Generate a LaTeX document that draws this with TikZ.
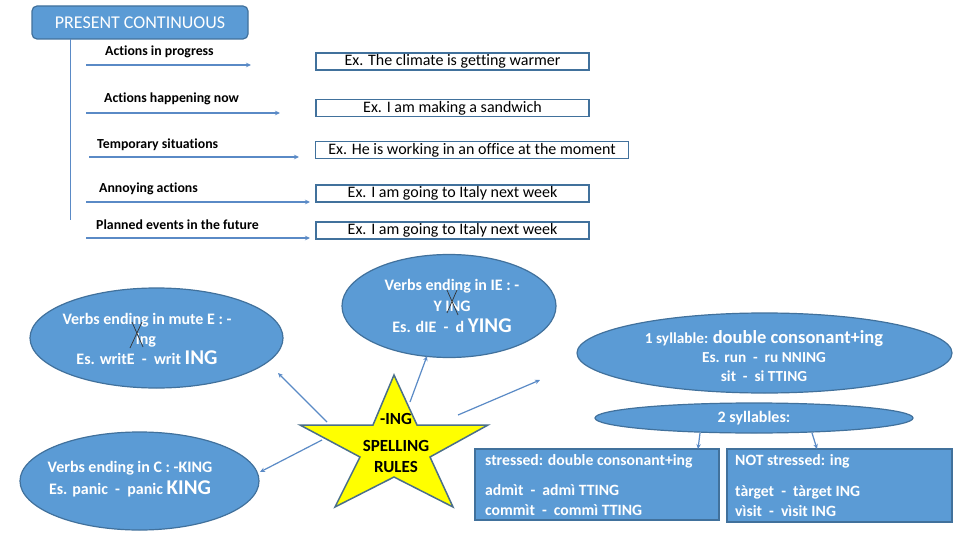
\documentclass[tikz,border=0pt]{standalone}
\usepackage{fontspec}
\setmainfont{Carlito}[Ligatures=NoCommon]
\usetikzlibrary{arrows.meta,shapes.geometric}
\definecolor{fillblue}{HTML}{5B9BD5}
\definecolor{edgeblue}{HTML}{41719C}
\definecolor{arrowblue}{HTML}{5A8AC6}
\definecolor{staryellow}{HTML}{FFFF00}
\definecolor{stargrey}{HTML}{4A6F8A}
\tikzset{
  titlebox/.style={rounded corners=5pt, fill=fillblue, draw=edgeblue, line width=1.2pt,
    text=white, font=\fontsize{18}{20}\selectfont, minimum width=216pt, minimum height=33pt, inner sep=0pt},
  acttext/.style={anchor=west, inner sep=0pt, font=\bfseries\fontsize{13.8}{15}\selectfont},
  exbox/.style={draw=edgeblue, line width=1.5pt, fill=white, minimum height=17pt, inner sep=0pt,
    font=\fontsize{16}{17}\selectfont},
  conn/.style={draw=arrowblue, line width=1.2pt, -{Stealth[length=5pt,width=4.5pt]}},
  plainline/.style={draw=arrowblue, line width=1pt},
  bubble/.style={ellipse, fill=fillblue, draw=edgeblue, line width=1.2pt, inner sep=0pt},
  btext/.style={text=white, align=center, inner sep=0pt, font=\bfseries\fontsize{16}{20}\selectfont},
  sbox/.style={fill=fillblue, draw=edgeblue, line width=1.5pt, inner sep=0pt},
  stext/.style={text=white, anchor=west, align=left, inner sep=0pt, font=\bfseries\fontsize{15.7}{20}\selectfont},
  xmark/.style={draw=black!80, line width=0.7pt},
  startext/.style={text=black, align=center, inner sep=0pt, font=\bfseries\fontsize{17}{21}\selectfont}
}
\begin{document}
\begin{tikzpicture}[x=1pt,y=-1pt]
\useasboundingbox[fill=white] (0,0) rectangle (960,540);

% title
\node[titlebox] (title) at (140,22.5) {PRESENT CONTINUOUS};
\coordinate (vtop) at (70,39);
\coordinate (vbot) at (70,220);
\draw[plainline] (vtop) -- (vbot);

% actions
\node[acttext] (a1) at (105,52) {Actions in progress};
\node[acttext] (a2) at (104,99) {Actions happening now};
\node[acttext] (a3) at (97,145) {Temporary situations};
\node[acttext] (a4) at (99,189) {Annoying actions};
\node[acttext] (a5) at (96,225) {Planned events in the future};

\coordinate (s1) at (86,65);  \coordinate (e1) at (251,65);
\coordinate (s2) at (86,113); \coordinate (e2) at (280,113);
\coordinate (s3) at (89,157); \coordinate (e3) at (299,157);
\coordinate (s4) at (86,202); \coordinate (e4) at (310,202);
\coordinate (s5) at (86,238); \coordinate (e5) at (310,238);
\foreach \i in {1,...,5} {\draw[conn] (s\i) -- (e\i);}

% example boxes
\node[exbox, minimum width=273pt] (x1) at (452.5,61.5) {Ex. The climate is getting warmer};
\node[exbox, minimum width=273pt] (x2) at (452.5,108) {Ex. I am making a sandwich};
\node[exbox, minimum width=313pt] (x3) at (472,150) {Ex. He is working in an office at the moment};
\node[exbox, minimum width=273pt] (x4) at (452.5,193.5) {Ex. I am going to Italy next week};
\node[exbox, minimum width=273pt] (x5) at (452.5,230.5) {Ex. I am going to Italy next week};

% ellipses
\node[bubble, minimum width=253pt, minimum height=100pt] (mute) at (156.5,338) {};
\node[btext] (mutet) at (147,338.5) {Verbs ending in mute E : -\\\hspace*{-2pt}ing\\Es. writE \ - \ writ {\fontsize{21}{20}\selectfont ING}};
\draw[xmark] (130,348) -- (142,322);
\draw[xmark] (132,322) -- (143,347);

\node[bubble, minimum width=214pt, minimum height=103pt] (ie) at (449,306) {};
\node[btext, font=\bfseries\fontsize{16}{21}\selectfont] (iet) at (452,306) {Verbs ending in IE : -\\Y ING\\Es. dIE \ - \ d {\fontsize{21}{21}\selectfont YING}};
\draw[xmark] (447,290) -- (458,315);
\draw[xmark] (457,290) -- (447,313);

\node[bubble, minimum width=375pt, minimum height=80pt] (one) at (764.5,353) {};
\node[btext, font=\bfseries\fontsize{15.3}{19}\selectfont] (onet) at (764,356) {1 syllable: {\fontsize{18.5}{19}\selectfont double consonant+ing}\\Es. run \ - \ ru NNING\\sit \ - \ si TTING};

\node[bubble, minimum width=318pt, minimum height=30pt] (two) at (754,418) {};
\node[btext] (twot) at (754,418) {2 syllables:};

\node[bubble, minimum width=239pt, minimum height=98pt] (cc) at (139.5,481) {};
\node[btext, font=\bfseries\fontsize{16}{22}\selectfont] (cct) at (130,479) {Verbs ending in C : -KING\\Es. panic \ - \ panic {\fontsize{21}{22}\selectfont KING}};

% boxes
\node[sbox, minimum width=244pt, minimum height=71pt] (st) at (597,484.5) {};
\node[stext] (sth) at (485,461) {stressed: double consonant+ing};
\node[stext] (stb) at (485,500) {admìt \ - \ admì TTING\\commìt \ - \ commì TTING};
\node[sbox, minimum width=225pt, minimum height=73pt] (ns) at (839.5,485.5) {};
\node[stext] (nsh) at (735,461) {NOT stressed: ing};
\node[stext] (nsb) at (735,501.5) {tàrget \ - \ tàrget ING\\vìsit \ - \ vìsit ING};

% star
\coordinate (p1) at (394,375);
\coordinate (p2) at (417,425);
\coordinate (p3) at (488,425);
\coordinate (p4) at (430,457);
\coordinate (p5) at (453,507);
\coordinate (p6) at (394,477);
\coordinate (p7) at (335,507);
\coordinate (p8) at (360,457);
\coordinate (p9) at (300,425);
\coordinate (p10) at (373,425);
\draw[fill=staryellow, draw=stargrey, line width=1.5pt, line join=miter]
  (p1) -- (p2) -- (p3) -- (p4) -- (p5) -- (p6) -- (p7) -- (p8) -- (p9) -- (p10) -- cycle;
\node[startext] (ing) at (396,419) {-ING};
\node[startext] (spell) at (396,456) {SPELLING\\RULES};

% arrows from star
\coordinate (fa) at (327,422); \coordinate (ta) at (278,373);
\coordinate (fb) at (322,440); \coordinate (tb) at (260,472);
\coordinate (fc) at (410,402); \coordinate (tc) at (427,356);
\coordinate (fd) at (458,415); \coordinate (td) at (540,380);
\draw[conn] (fa) -- (ta);
\draw[conn] (fb) -- (tb);
\draw[conn] (fc) -- (tc);
\draw[conn] (fd) -- (td);

% arrows from 2 syllables
\coordinate (fe) at (700,433); \coordinate (te) at (698,449);
\coordinate (ff) at (812,433); \coordinate (tf) at (817,449);
\draw[conn] (fe) -- (te);
\draw[conn] (ff) -- (tf);
\end{tikzpicture}
\end{document}
